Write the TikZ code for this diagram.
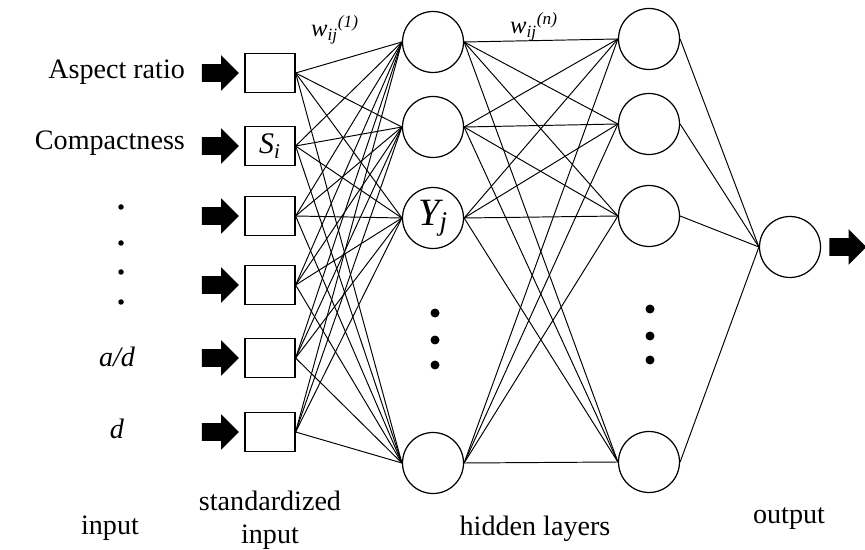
\documentclass[tikz,border=0pt]{standalone}
\usepackage{fontspec}
\setmainfont{Liberation Serif}
\usetikzlibrary{shapes.arrows, positioning}
\tikzset{
  sq/.style    ={rectangle, draw, line width=0.7pt, minimum width=1cm,
                 minimum height=0.78cm, inner sep=0pt, font=\fontsize{17}{19}\selectfont},
  neu/.style   ={circle, draw, line width=0.7pt, minimum size=1.22cm, inner sep=0pt,
                 font=\fontsize{22}{24}\selectfont},
  wire/.style  ={draw, line width=0.55pt},
  inarr/.style ={single arrow, fill=black, draw=none, inner xsep=0pt, inner ysep=0.17cm,
                 minimum height=0.74cm, single arrow head extend=0.18cm},
  lbl/.style   ={font=\fontsize{16}{18.7}\selectfont, inner sep=1pt},
  wlbl/.style  ={font=\fontsize{14}{16}\selectfont, inner sep=1pt},
  smdot/.style ={circle, fill=black, minimum size=0.11cm, inner sep=0pt},
  bigdot/.style={circle, fill=black, minimum size=0.18cm, inner sep=0pt},
}
\begin{document}
\begin{tikzpicture}[x=0.02cm, y=-0.02cm]
\useasboundingbox (0,0) rectangle (865,550);
\foreach \i/\y/\t in {1/73/{},2/146/{\textit{S\textsubscript{i}}},3/216/{},4/285/{},5/358/{},6/432/{}}
  \node[sq] (s\i) at (270,\y) {\t};
\foreach \i/\y/\t in {1/42/{},2/127/{},3/218/{\textit{Y\textsubscript{j}}},4/463/{}}
  \node[neu] (h\i) at (433,\y) {\t};
\foreach \i/\y in {1/39,2/124,3/216,4/462}
  \node[neu] (g\i) at (649,\y) {};
\node[neu] (o) at (790,247) {};
\foreach \i in {1,...,6}
  \node[inarr, left=1mm of s\i] (a\i) {};
\node[inarr, right=1.6mm of o] (oa) {};
\foreach \i in {1,...,6}
  \foreach \j in {1,...,4}
    \draw[wire] (s\i.east) -- (h\j.west);
\foreach \i in {1,...,4}
  \foreach \j in {1,...,4}
    \draw[wire] (h\i.east) -- (g\j.west);
\foreach \j in {1,...,4}
  \draw[wire] (g\j.east) -- (o.west);
\node[lbl, anchor=east] (ar) at (187,72) {Aspect ratio};
\node[lbl, anchor=east] (cp) at (187,143) {Compactness};
\foreach \k/\y in {1/207,2/243,3/272,4/302}
  \node[smdot] (d\k) at (121,\y) {};
\node[lbl] (ad) at (117,357) {\textit{a/d}};
\node[lbl] (dd) at (117,429) {\textit{d}};
\foreach \k/\y in {1/313,2/340,3/365}
  \node[bigdot] (p\k) at (435,\y) {};
\foreach \k/\y in {1/309,2/336,3/360}
  \node[bigdot] (q\k) at (650,\y) {};
\node[wlbl] (w1) at (335,30) {\textit{w\textsubscript{ij}\textsuperscript{(1)}}};
\node[wlbl] (wn) at (534,27) {\textit{w\textsubscript{ij}\textsuperscript{(n)}}};
\node[lbl] (tin) at (110,528) {input};
\node[lbl, align=center] (tsi) at (270,520) {standardized\\input};
\node[lbl] (thl) at (535,529) {hidden layers};
\node[lbl] (tout) at (789,519) {output};
\end{tikzpicture}
\end{document}
